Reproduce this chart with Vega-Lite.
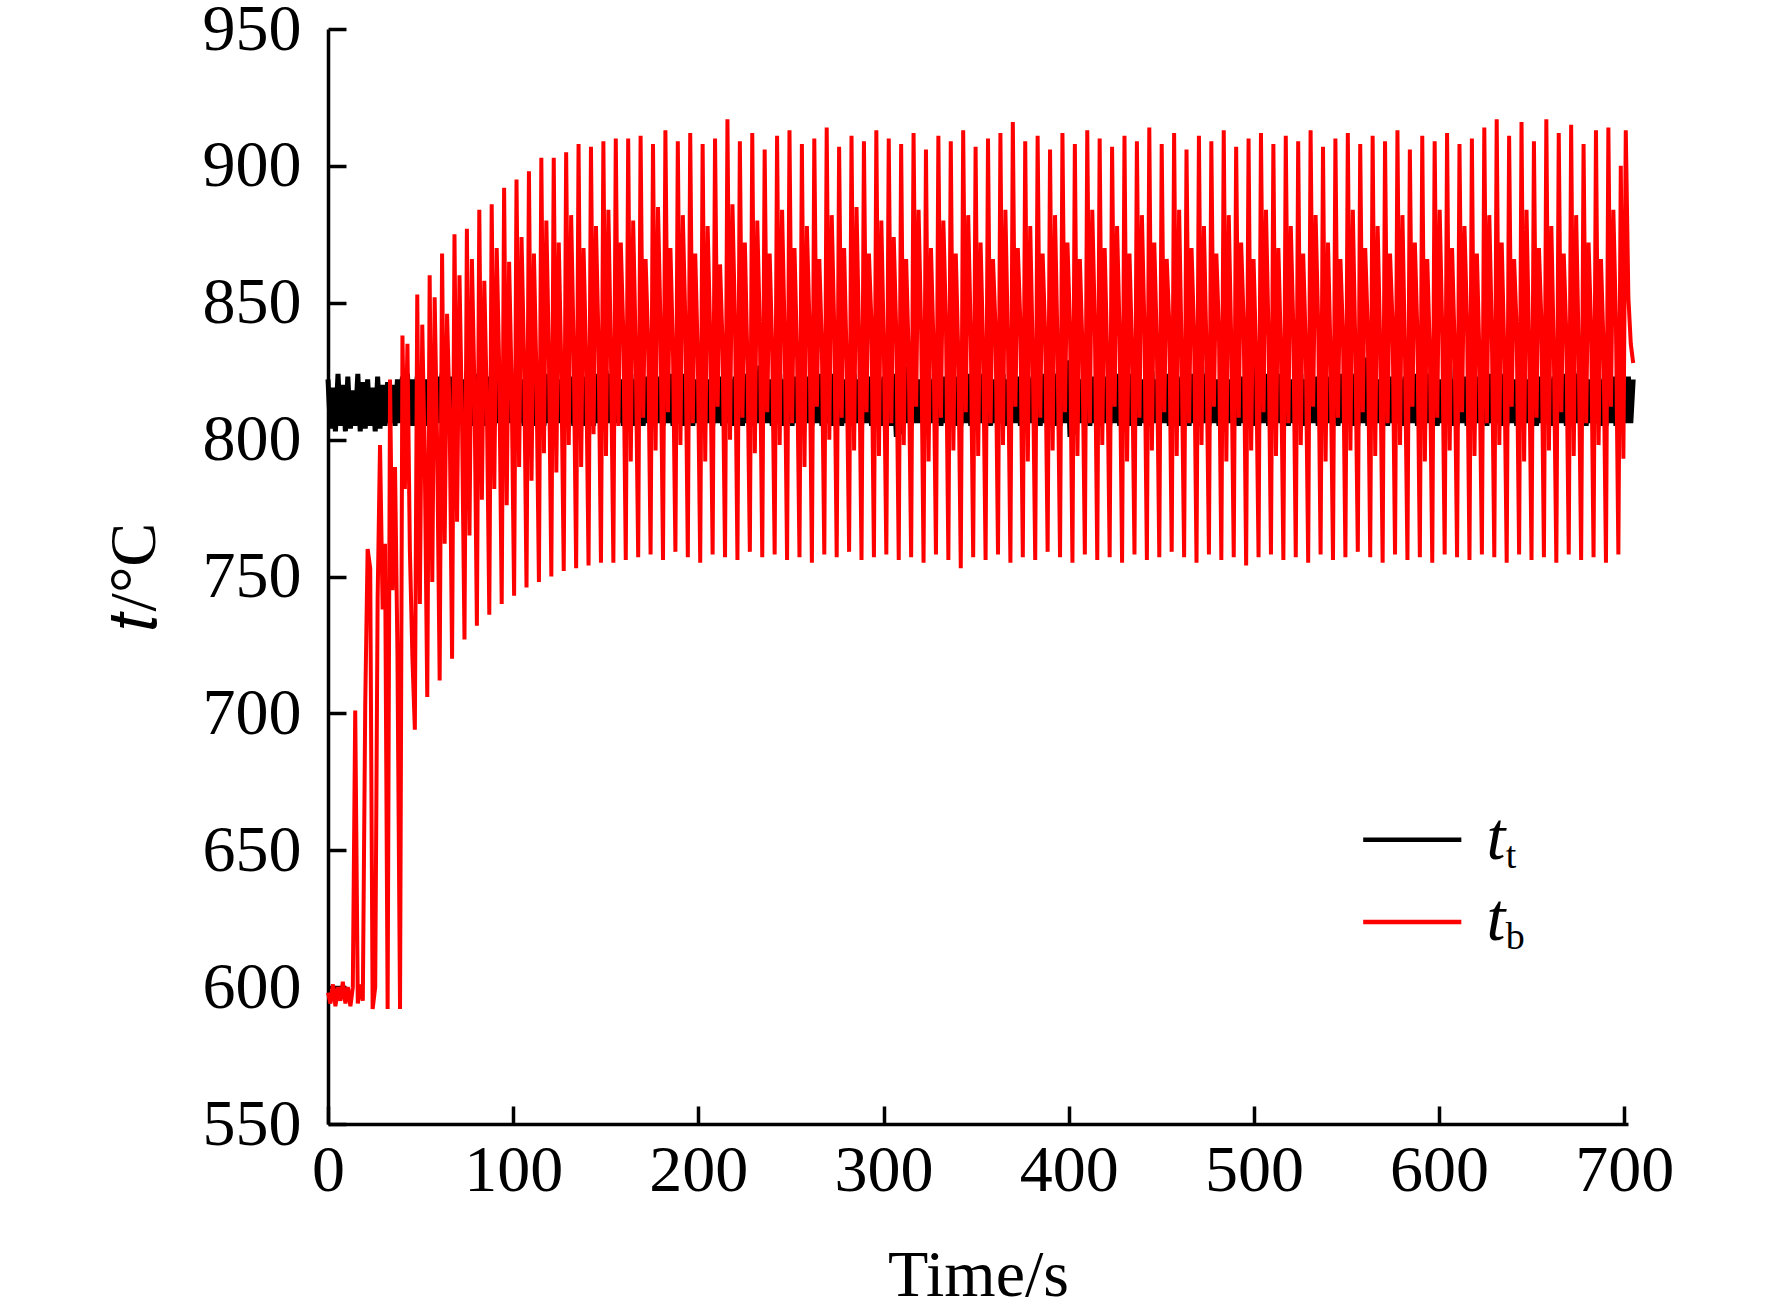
{
  "$schema": "https://vega.github.io/schema/vega-lite/v6.json",
  "description": "t_t and t_b temperature traces over time",
  "width": 1300,
  "height": 1095,
  "autosize": "none",
  "padding": {"left": 328, "top": 29, "right": 144, "bottom": 191},
  "background": "white",
  "config": {
    "view": {"stroke": null},
    "axis": {
      "grid": false,
      "domainColor": "black",
      "domainWidth": 3.5,
      "tickColor": "black",
      "tickWidth": 3.5,
      "tickSize": -18,
      "labelFont": "Liberation Serif",
      "labelFontSize": 66,
      "labelColor": "black",
      "labelFlush": false,
      "labelOverlap": false,
      "titleFont": "Liberation Serif",
      "titleFontSize": 66,
      "titleFontWeight": "normal",
      "titleColor": "black"
    }
  },
  "data": {
    "values": [
      {"t":0,"tt":822,"tb":598},{"t":1.3,"tt":804,"tb":594},{"t":2.7,"tt":819,"tb":601},{"t":4.0,"tt":803,"tb":593},{"t":5.4,"tt":824,"tb":600},
      {"t":6.7,"tt":805,"tb":595},{"t":8.0,"tt":820,"tb":602},{"t":9.4,"tt":803,"tb":594},{"t":10.7,"tt":823,"tb":600},{"t":12.1,"tt":804,"tb":593},
      {"t":13.4,"tt":818,"tb":600},{"t":14.7,"tt":805,"tb":701},{"t":16.1,"tt":824,"tb":594},{"t":17.4,"tt":803,"tb":601},{"t":18.8,"tt":821,"tb":595},
      {"t":20.1,"tt":804,"tb":703},{"t":21.4,"tt":822,"tb":760},{"t":22.8,"tt":805,"tb":753},{"t":24.1,"tt":819,"tb":592},{"t":25.5,"tt":803,"tb":600},
      {"t":26.8,"tt":823,"tb":742},{"t":28.1,"tt":804,"tb":798},{"t":29.5,"tt":820,"tb":738},{"t":30.8,"tt":805,"tb":762},{"t":32.2,"tt":821,"tb":592},
      {"t":33.5,"tt":806,"tb":822},{"t":34.8,"tt":820,"tb":745},{"t":36.2,"tt":805,"tb":790},{"t":37.5,"tt":822,"tb":722},{"t":38.9,"tt":806,"tb":592},
      {"t":40.2,"tt":823,"tb":838},{"t":41.5,"tt":806,"tb":782},{"t":42.9,"tt":824,"tb":835},{"t":44.2,"tt":805,"tb":760},{"t":45.6,"tt":822,"tb":720},
      {"t":46.9,"tt":805,"tb":694},{"t":48.2,"tt":823,"tb":853},{"t":49.6,"tt":806,"tb":740},{"t":50.9,"tt":824,"tb":842},{"t":52.3,"tt":805,"tb":790},
      {"t":53.6,"tt":822,"tb":706},{"t":54.9,"tt":806,"tb":860},{"t":56.3,"tt":825,"tb":748},{"t":57.6,"tt":805,"tb":852},{"t":59.0,"tt":823,"tb":795},
      {"t":60.3,"tt":806,"tb":712},{"t":61.6,"tt":824,"tb":868},{"t":63.0,"tt":805,"tb":762},{"t":64.3,"tt":822,"tb":846},{"t":65.7,"tt":806,"tb":808},
      {"t":67,"tt":823,"tb":720},{"t":68.3,"tt":805,"tb":875},{"t":69.7,"tt":824,"tb":770},{"t":71.0,"tt":806,"tb":860},{"t":72.4,"tt":822,"tb":805},
      {"t":73.7,"tt":805,"tb":727},{"t":75.0,"tt":825,"tb":877},{"t":76.4,"tt":806,"tb":765},{"t":77.7,"tt":823,"tb":866},{"t":79.1,"tt":805,"tb":818},
      {"t":80.4,"tt":824,"tb":732},{"t":81.7,"tt":806,"tb":884},{"t":83.1,"tt":822,"tb":778},{"t":84.4,"tt":805,"tb":858},{"t":85.8,"tt":823,"tb":812},
      {"t":87.1,"tt":806,"tb":736},{"t":88.4,"tt":823,"tb":886},{"t":89.8,"tt":805,"tb":782},{"t":91.1,"tt":824,"tb":870},{"t":92.5,"tt":806,"tb":825},
      {"t":93.8,"tt":822,"tb":740},{"t":95.1,"tt":805,"tb":892},{"t":96.5,"tt":825,"tb":776},{"t":97.8,"tt":806,"tb":865},{"t":99.2,"tt":823,"tb":818},
      {"t":100.5,"tt":805,"tb":743},{"t":101.8,"tt":824,"tb":895},{"t":103.2,"tt":806,"tb":790},{"t":104.5,"tt":822,"tb":874},{"t":105.9,"tt":805,"tb":828},
      {"t":107.2,"tt":825,"tb":746},{"t":108.5,"tt":806,"tb":898},{"t":109.9,"tt":823,"tb":785},{"t":111.2,"tt":805,"tb":868},{"t":112.6,"tt":824,"tb":822},
      {"t":113.9,"tt":806,"tb":748},{"t":115.2,"tt":822,"tb":903},{"t":116.6,"tt":805,"tb":795},{"t":117.9,"tt":824,"tb":880},{"t":119.3,"tt":806,"tb":830},
      {"t":120.6,"tt":823,"tb":750},{"t":121.9,"tt":805,"tb":903},{"t":123.3,"tt":824,"tb":788},{"t":124.6,"tt":806,"tb":872},{"t":126.0,"tt":822,"tb":826},
      {"t":127.3,"tt":805,"tb":752},{"t":128.6,"tt":825,"tb":905},{"t":130.0,"tt":806,"tb":798},{"t":131.3,"tt":823,"tb":882},{"t":132.7,"tt":805,"tb":832},
      {"t":134,"tt":824,"tb":753},{"t":135.3,"tt":806,"tb":908},{"t":136.7,"tt":822,"tb":790},{"t":138.0,"tt":805,"tb":870},{"t":139.4,"tt":823,"tb":828},
      {"t":140.7,"tt":806,"tb":754},{"t":142.0,"tt":823,"tb":907},{"t":143.4,"tt":805,"tb":802},{"t":144.7,"tt":824,"tb":878},{"t":146.1,"tt":806,"tb":835},
      {"t":147.4,"tt":822,"tb":755},{"t":148.7,"tt":805,"tb":909},{"t":150.1,"tt":825,"tb":794},{"t":151.4,"tt":806,"tb":884},{"t":152.8,"tt":824,"tb":830},
      {"t":154.1,"tt":805,"tb":755},{"t":155.4,"tt":824,"tb":910},{"t":156.8,"tt":806,"tb":805},{"t":158.1,"tt":822,"tb":872},{"t":159.5,"tt":805,"tb":838},
      {"t":160.8,"tt":823,"tb":756},{"t":162.1,"tt":806,"tb":910},{"t":163.5,"tt":824,"tb":792},{"t":164.8,"tt":805,"tb":880},{"t":166.2,"tt":822,"tb":831},
      {"t":167.5,"tt":806,"tb":757},{"t":168.8,"tt":825,"tb":911},{"t":170.2,"tt":805,"tb":808},{"t":171.5,"tt":823,"tb":866},{"t":172.9,"tt":806,"tb":835},
      {"t":174.2,"tt":824,"tb":758},{"t":175.5,"tt":805,"tb":908},{"t":176.9,"tt":822,"tb":796},{"t":178.2,"tt":806,"tb":885},{"t":179.6,"tt":823,"tb":840},
      {"t":180.9,"tt":805,"tb":756},{"t":182.2,"tt":823,"tb":913},{"t":183.6,"tt":806,"tb":810},{"t":184.9,"tt":824,"tb":870},{"t":186.3,"tt":805,"tb":832},
      {"t":187.6,"tt":822,"tb":759},{"t":188.9,"tt":806,"tb":909},{"t":190.3,"tt":825,"tb":798},{"t":191.6,"tt":805,"tb":882},{"t":193.0,"tt":824,"tb":842},
      {"t":194.3,"tt":806,"tb":757},{"t":195.6,"tt":824,"tb":912},{"t":197.0,"tt":805,"tb":806},{"t":198.3,"tt":822,"tb":868},{"t":199.7,"tt":806,"tb":830},
      {"t":201,"tt":823,"tb":755},{"t":202.3,"tt":805,"tb":908},{"t":203.7,"tt":824,"tb":792},{"t":205.0,"tt":806,"tb":878},{"t":206.4,"tt":822,"tb":838},
      {"t":207.7,"tt":805,"tb":758},{"t":209.0,"tt":825,"tb":910},{"t":210.4,"tt":806,"tb":812},{"t":211.7,"tt":823,"tb":864},{"t":213.1,"tt":805,"tb":834},
      {"t":214.4,"tt":824,"tb":757},{"t":215.7,"tt":806,"tb":917},{"t":217.1,"tt":822,"tb":800},{"t":218.4,"tt":805,"tb":886},{"t":219.8,"tt":823,"tb":842},
      {"t":221.1,"tt":806,"tb":756},{"t":222.4,"tt":823,"tb":909},{"t":223.8,"tt":805,"tb":808},{"t":225.1,"tt":824,"tb":872},{"t":226.5,"tt":806,"tb":828},
      {"t":227.8,"tt":822,"tb":759},{"t":229.1,"tt":805,"tb":912},{"t":230.5,"tt":825,"tb":795},{"t":231.8,"tt":806,"tb":880},{"t":233.2,"tt":827,"tb":840},
      {"t":234.5,"tt":805,"tb":757},{"t":235.8,"tt":824,"tb":906},{"t":237.2,"tt":806,"tb":810},{"t":238.5,"tt":822,"tb":868},{"t":239.9,"tt":805,"tb":832},
      {"t":241.2,"tt":823,"tb":758},{"t":242.5,"tt":806,"tb":911},{"t":243.9,"tt":824,"tb":798},{"t":245.2,"tt":805,"tb":884},{"t":246.6,"tt":822,"tb":838},
      {"t":247.9,"tt":806,"tb":756},{"t":249.2,"tt":825,"tb":913},{"t":250.6,"tt":805,"tb":806},{"t":251.9,"tt":823,"tb":870},{"t":253.3,"tt":806,"tb":830},
      {"t":254.6,"tt":824,"tb":757},{"t":255.9,"tt":805,"tb":908},{"t":257.3,"tt":822,"tb":790},{"t":258.6,"tt":806,"tb":878},{"t":260.0,"tt":823,"tb":842},
      {"t":261.3,"tt":805,"tb":755},{"t":262.6,"tt":827,"tb":910},{"t":264.0,"tt":806,"tb":812},{"t":265.3,"tt":824,"tb":866},{"t":266.7,"tt":805,"tb":834},
      {"t":268,"tt":822,"tb":758},{"t":269.3,"tt":806,"tb":914},{"t":270.7,"tt":825,"tb":800},{"t":272.0,"tt":805,"tb":882},{"t":273.4,"tt":824,"tb":840},
      {"t":274.7,"tt":806,"tb":757},{"t":276.0,"tt":824,"tb":907},{"t":277.4,"tt":805,"tb":808},{"t":278.7,"tt":822,"tb":870},{"t":280.1,"tt":806,"tb":828},
      {"t":281.4,"tt":823,"tb":759},{"t":282.7,"tt":805,"tb":911},{"t":284.1,"tt":824,"tb":796},{"t":285.4,"tt":806,"tb":885},{"t":286.8,"tt":822,"tb":836},
      {"t":288.1,"tt":805,"tb":756},{"t":289.4,"tt":825,"tb":909},{"t":290.8,"tt":806,"tb":810},{"t":292.1,"tt":823,"tb":868},{"t":293.5,"tt":805,"tb":842},
      {"t":294.8,"tt":824,"tb":757},{"t":296.1,"tt":806,"tb":913},{"t":297.5,"tt":822,"tb":794},{"t":298.8,"tt":805,"tb":880},{"t":300.2,"tt":823,"tb":832},
      {"t":301.5,"tt":806,"tb":758},{"t":302.8,"tt":827,"tb":910},{"t":304.2,"tt":805,"tb":806},{"t":305.5,"tt":824,"tb":874},{"t":306.9,"tt":801,"tb":838},
      {"t":308.2,"tt":822,"tb":756},{"t":309.5,"tt":802,"tb":908},{"t":310.9,"tt":825,"tb":798},{"t":312.2,"tt":806,"tb":866},{"t":313.6,"tt":827,"tb":830},
      {"t":314.9,"tt":805,"tb":757},{"t":316.2,"tt":824,"tb":912},{"t":317.6,"tt":806,"tb":812},{"t":318.9,"tt":822,"tb":884},{"t":320.3,"tt":806,"tb":840},
      {"t":321.6,"tt":823,"tb":755},{"t":322.9,"tt":805,"tb":906},{"t":324.3,"tt":824,"tb":792},{"t":325.6,"tt":806,"tb":870},{"t":327.0,"tt":822,"tb":834},
      {"t":328.3,"tt":806,"tb":758},{"t":329.6,"tt":825,"tb":911},{"t":331.0,"tt":805,"tb":808},{"t":332.3,"tt":823,"tb":880},{"t":333.7,"tt":806,"tb":842},
      {"t":335,"tt":824,"tb":756},{"t":336.3,"tt":806,"tb":909},{"t":337.7,"tt":822,"tb":796},{"t":339.0,"tt":805,"tb":868},{"t":340.4,"tt":823,"tb":830},
      {"t":341.7,"tt":805,"tb":753},{"t":343.0,"tt":823,"tb":913},{"t":344.4,"tt":806,"tb":810},{"t":345.7,"tt":824,"tb":882},{"t":347.1,"tt":805,"tb":838},
      {"t":348.4,"tt":822,"tb":757},{"t":349.7,"tt":805,"tb":907},{"t":351.1,"tt":825,"tb":794},{"t":352.4,"tt":806,"tb":872},{"t":353.8,"tt":824,"tb":832},
      {"t":355.1,"tt":806,"tb":756},{"t":356.4,"tt":824,"tb":910},{"t":357.8,"tt":805,"tb":806},{"t":359.1,"tt":822,"tb":866},{"t":360.5,"tt":806,"tb":840},
      {"t":361.8,"tt":823,"tb":758},{"t":363.1,"tt":806,"tb":912},{"t":364.5,"tt":824,"tb":798},{"t":365.8,"tt":805,"tb":884},{"t":367.2,"tt":822,"tb":834},
      {"t":368.5,"tt":805,"tb":755},{"t":369.8,"tt":825,"tb":916},{"t":371.2,"tt":806,"tb":812},{"t":372.5,"tt":823,"tb":870},{"t":373.9,"tt":805,"tb":842},
      {"t":375.2,"tt":824,"tb":757},{"t":376.5,"tt":805,"tb":909},{"t":377.9,"tt":822,"tb":792},{"t":379.2,"tt":806,"tb":878},{"t":380.6,"tt":823,"tb":830},
      {"t":381.9,"tt":806,"tb":756},{"t":383.2,"tt":823,"tb":911},{"t":384.6,"tt":805,"tb":808},{"t":385.9,"tt":824,"tb":868},{"t":387.3,"tt":806,"tb":838},
      {"t":388.6,"tt":822,"tb":759},{"t":389.9,"tt":806,"tb":906},{"t":391.3,"tt":825,"tb":796},{"t":392.6,"tt":805,"tb":882},{"t":394.0,"tt":824,"tb":832},
      {"t":395.3,"tt":805,"tb":757},{"t":396.6,"tt":824,"tb":912},{"t":398.0,"tt":806,"tb":810},{"t":399.3,"tt":829,"tb":872},{"t":400.7,"tt":801,"tb":840},
      {"t":402,"tt":823,"tb":755},{"t":403.3,"tt":802,"tb":908},{"t":404.7,"tt":824,"tb":794},{"t":406.0,"tt":806,"tb":866},{"t":407.4,"tt":822,"tb":834},
      {"t":408.7,"tt":806,"tb":758},{"t":410.0,"tt":828,"tb":913},{"t":411.4,"tt":805,"tb":806},{"t":412.7,"tt":823,"tb":884},{"t":414.1,"tt":806,"tb":842},
      {"t":415.4,"tt":824,"tb":756},{"t":416.7,"tt":805,"tb":910},{"t":418.1,"tt":822,"tb":798},{"t":419.4,"tt":806,"tb":870},{"t":420.8,"tt":823,"tb":830},
      {"t":422.1,"tt":805,"tb":757},{"t":423.4,"tt":825,"tb":907},{"t":424.8,"tt":806,"tb":812},{"t":426.1,"tt":824,"tb":878},{"t":427.5,"tt":805,"tb":838},
      {"t":428.8,"tt":822,"tb":755},{"t":430.1,"tt":806,"tb":911},{"t":431.5,"tt":823,"tb":792},{"t":432.8,"tt":805,"tb":868},{"t":434.2,"tt":824,"tb":832},
      {"t":435.5,"tt":806,"tb":758},{"t":436.8,"tt":824,"tb":909},{"t":438.2,"tt":805,"tb":808},{"t":439.5,"tt":822,"tb":882},{"t":440.9,"tt":806,"tb":840},
      {"t":442.2,"tt":823,"tb":756},{"t":443.5,"tt":805,"tb":914},{"t":444.9,"tt":825,"tb":796},{"t":446.2,"tt":806,"tb":872},{"t":447.6,"tt":822,"tb":834},
      {"t":448.9,"tt":805,"tb":757},{"t":450.2,"tt":823,"tb":908},{"t":451.6,"tt":806,"tb":810},{"t":452.9,"tt":824,"tb":866},{"t":454.3,"tt":805,"tb":842},
      {"t":455.6,"tt":824,"tb":759},{"t":456.9,"tt":806,"tb":912},{"t":458.3,"tt":822,"tb":794},{"t":459.6,"tt":805,"tb":884},{"t":461.0,"tt":823,"tb":830},
      {"t":462.3,"tt":806,"tb":757},{"t":463.6,"tt":827,"tb":906},{"t":465.0,"tt":805,"tb":806},{"t":466.3,"tt":824,"tb":870},{"t":467.7,"tt":806,"tb":838},
      {"t":469,"tt":822,"tb":755},{"t":470.3,"tt":805,"tb":911},{"t":471.7,"tt":828,"tb":798},{"t":473.0,"tt":806,"tb":878},{"t":474.4,"tt":824,"tb":832},
      {"t":475.7,"tt":805,"tb":758},{"t":477.0,"tt":824,"tb":909},{"t":478.4,"tt":806,"tb":812},{"t":479.7,"tt":822,"tb":868},{"t":481.1,"tt":805,"tb":840},
      {"t":482.4,"tt":823,"tb":756},{"t":483.7,"tt":803,"tb":913},{"t":485.1,"tt":824,"tb":792},{"t":486.4,"tt":806,"tb":882},{"t":487.8,"tt":822,"tb":834},
      {"t":489.1,"tt":806,"tb":757},{"t":490.4,"tt":825,"tb":907},{"t":491.8,"tt":805,"tb":808},{"t":493.1,"tt":823,"tb":872},{"t":494.5,"tt":806,"tb":842},
      {"t":495.8,"tt":824,"tb":754},{"t":497.1,"tt":806,"tb":910},{"t":498.5,"tt":822,"tb":796},{"t":499.8,"tt":805,"tb":866},{"t":501.2,"tt":827,"tb":830},
      {"t":502.5,"tt":805,"tb":757},{"t":503.8,"tt":823,"tb":912},{"t":505.2,"tt":806,"tb":810},{"t":506.5,"tt":824,"tb":884},{"t":507.9,"tt":805,"tb":838},
      {"t":509.2,"tt":822,"tb":758},{"t":510.5,"tt":805,"tb":908},{"t":511.9,"tt":825,"tb":794},{"t":513.2,"tt":806,"tb":870},{"t":514.6,"tt":824,"tb":832},
      {"t":515.9,"tt":806,"tb":756},{"t":517.2,"tt":824,"tb":911},{"t":518.6,"tt":805,"tb":806},{"t":519.9,"tt":822,"tb":878},{"t":521.3,"tt":806,"tb":840},
      {"t":522.6,"tt":823,"tb":757},{"t":523.9,"tt":806,"tb":909},{"t":525.3,"tt":824,"tb":798},{"t":526.6,"tt":805,"tb":868},{"t":528.0,"tt":822,"tb":834},
      {"t":529.3,"tt":805,"tb":755},{"t":530.6,"tt":825,"tb":913},{"t":532.0,"tt":806,"tb":812},{"t":533.3,"tt":823,"tb":882},{"t":534.7,"tt":805,"tb":842},
      {"t":536,"tt":824,"tb":758},{"t":537.3,"tt":805,"tb":907},{"t":538.7,"tt":822,"tb":792},{"t":540.0,"tt":806,"tb":872},{"t":541.4,"tt":823,"tb":830},
      {"t":542.7,"tt":806,"tb":756},{"t":544.0,"tt":823,"tb":910},{"t":545.4,"tt":805,"tb":808},{"t":546.7,"tt":824,"tb":866},{"t":548.1,"tt":806,"tb":838},
      {"t":549.4,"tt":822,"tb":757},{"t":550.7,"tt":806,"tb":912},{"t":552.1,"tt":825,"tb":796},{"t":553.4,"tt":805,"tb":884},{"t":554.8,"tt":824,"tb":832},
      {"t":556.1,"tt":805,"tb":759},{"t":557.4,"tt":824,"tb":908},{"t":558.8,"tt":806,"tb":810},{"t":560.1,"tt":830,"tb":870},{"t":561.5,"tt":805,"tb":840},
      {"t":562.8,"tt":823,"tb":757},{"t":564.1,"tt":805,"tb":911},{"t":565.5,"tt":824,"tb":794},{"t":566.8,"tt":806,"tb":878},{"t":568.2,"tt":822,"tb":834},
      {"t":569.5,"tt":806,"tb":755},{"t":570.8,"tt":825,"tb":909},{"t":572.2,"tt":805,"tb":806},{"t":573.5,"tt":823,"tb":868},{"t":574.9,"tt":806,"tb":842},
      {"t":576.2,"tt":824,"tb":758},{"t":577.5,"tt":806,"tb":913},{"t":578.9,"tt":822,"tb":798},{"t":580.2,"tt":805,"tb":882},{"t":581.6,"tt":823,"tb":830},
      {"t":582.9,"tt":805,"tb":756},{"t":584.2,"tt":823,"tb":906},{"t":585.6,"tt":806,"tb":812},{"t":586.9,"tt":824,"tb":872},{"t":588.3,"tt":805,"tb":838},
      {"t":589.6,"tt":822,"tb":757},{"t":590.9,"tt":805,"tb":911},{"t":592.3,"tt":825,"tb":792},{"t":593.6,"tt":806,"tb":866},{"t":595.0,"tt":824,"tb":832},
      {"t":596.3,"tt":806,"tb":755},{"t":597.6,"tt":824,"tb":909},{"t":599.0,"tt":805,"tb":808},{"t":600.3,"tt":822,"tb":884},{"t":601.7,"tt":806,"tb":840},
      {"t":603,"tt":823,"tb":758},{"t":604.3,"tt":806,"tb":912},{"t":605.7,"tt":827,"tb":796},{"t":607.0,"tt":805,"tb":870},{"t":608.4,"tt":822,"tb":834},
      {"t":609.7,"tt":805,"tb":757},{"t":611.0,"tt":825,"tb":908},{"t":612.4,"tt":806,"tb":810},{"t":613.7,"tt":823,"tb":878},{"t":615.1,"tt":805,"tb":842},
      {"t":616.4,"tt":824,"tb":756},{"t":617.7,"tt":805,"tb":910},{"t":619.1,"tt":822,"tb":794},{"t":620.4,"tt":806,"tb":868},{"t":621.8,"tt":823,"tb":830},
      {"t":623.1,"tt":806,"tb":758},{"t":624.4,"tt":823,"tb":914},{"t":625.8,"tt":805,"tb":806},{"t":627.1,"tt":824,"tb":882},{"t":628.5,"tt":806,"tb":838},
      {"t":629.8,"tt":822,"tb":757},{"t":631.1,"tt":806,"tb":917},{"t":632.5,"tt":825,"tb":798},{"t":633.8,"tt":805,"tb":872},{"t":635.2,"tt":824,"tb":832},
      {"t":636.5,"tt":805,"tb":755},{"t":637.8,"tt":824,"tb":911},{"t":639.2,"tt":806,"tb":812},{"t":640.5,"tt":822,"tb":866},{"t":641.9,"tt":805,"tb":840},
      {"t":643.2,"tt":823,"tb":758},{"t":644.5,"tt":805,"tb":916},{"t":645.9,"tt":824,"tb":792},{"t":647.2,"tt":806,"tb":884},{"t":648.6,"tt":822,"tb":834},
      {"t":649.9,"tt":806,"tb":756},{"t":651.2,"tt":827,"tb":909},{"t":652.6,"tt":805,"tb":808},{"t":653.9,"tt":823,"tb":870},{"t":655.3,"tt":806,"tb":842},
      {"t":656.6,"tt":824,"tb":757},{"t":657.9,"tt":806,"tb":917},{"t":659.3,"tt":822,"tb":796},{"t":660.6,"tt":805,"tb":878},{"t":662.0,"tt":823,"tb":830},
      {"t":663.3,"tt":805,"tb":755},{"t":664.6,"tt":827,"tb":912},{"t":666.0,"tt":806,"tb":810},{"t":667.3,"tt":824,"tb":868},{"t":668.7,"tt":805,"tb":838},
      {"t":670,"tt":822,"tb":758},{"t":671.3,"tt":805,"tb":915},{"t":672.7,"tt":825,"tb":794},{"t":674.0,"tt":806,"tb":882},{"t":675.4,"tt":824,"tb":832},
      {"t":676.7,"tt":806,"tb":756},{"t":678.0,"tt":824,"tb":908},{"t":679.4,"tt":805,"tb":806},{"t":680.7,"tt":822,"tb":872},{"t":682.1,"tt":806,"tb":840},
      {"t":683.4,"tt":823,"tb":757},{"t":684.7,"tt":806,"tb":913},{"t":686.1,"tt":824,"tb":798},{"t":687.4,"tt":805,"tb":866},{"t":688.8,"tt":822,"tb":834},
      {"t":690.1,"tt":805,"tb":755},{"t":691.4,"tt":825,"tb":914},{"t":692.8,"tt":806,"tb":812},{"t":694.1,"tt":823,"tb":884},{"t":695.5,"tt":805,"tb":842},
      {"t":696.8,"tt":824,"tb":758},{"t":698.1,"tt":805,"tb":900},{"t":699.5,"tt":822,"tb":793},{"t":700.8,"tt":806,"tb":913},{"t":702.2,"tt":823,"tb":852},
      {"t":703.5,"tt":806,"tb":835},{"t":704.8,"tt":822,"tb":828}
    ]
  },
  "layer": [
    {
      "mark": {"type": "line", "color": "#000000", "strokeWidth": 5},
      "encoding": {
        "x": {
          "field": "t",
          "type": "quantitative",
          "title": "Time/s",
          "scale": {"domain": [0, 702], "nice": false, "zero": false},
          "axis": {"values": [0, 100, 200, 300, 400, 500, 600, 700], "labelPadding": 32.5, "titlePadding": 40}
        },
        "y": {
          "field": "tt",
          "type": "quantitative",
          "title": "𝑡/°C",
          "scale": {"domain": [550, 950], "nice": false, "zero": false},
          "axis": {"values": [550, 600, 650, 700, 750, 800, 850, 900, 950], "labelPadding": 45, "titlePadding": 34}
        }
      }
    },
    {
      "mark": {"type": "line", "color": "#ff0000", "strokeWidth": 4},
      "encoding": {
        "x": {"field": "t", "type": "quantitative", "title": "Time/s"},
        "y": {"field": "tb", "type": "quantitative", "title": "𝑡/°C"}
      }
    },
    {
      "data": {"values": [{}]},
      "mark": {"type": "rule", "color": "#000000", "strokeWidth": 4.5},
      "encoding": {
        "x": {"datum": 559, "type": "quantitative", "title": "Time/s"},
        "x2": {"datum": 612},
        "y": {"datum": 653.8, "type": "quantitative", "title": "𝑡/°C"}
      }
    },
    {
      "data": {"values": [{}]},
      "mark": {"type": "rule", "color": "#ff0000", "strokeWidth": 4.5},
      "encoding": {
        "x": {"datum": 559, "type": "quantitative", "title": "Time/s"},
        "x2": {"datum": 612},
        "y": {"datum": 623.8, "type": "quantitative", "title": "𝑡/°C"}
      }
    },
    {
      "data": {"values": [{}]},
      "mark": {"type": "text", "text": "t", "font": "Liberation Serif", "fontStyle": "italic", "fontSize": 68, "align": "left", "baseline": "alphabetic", "color": "#000000"},
      "encoding": {
        "x": {"datum": 625.6, "type": "quantitative", "title": "Time/s"},
        "y": {"datum": 646.8, "type": "quantitative", "title": "𝑡/°C"}
      }
    },
    {
      "data": {"values": [{}]},
      "mark": {"type": "text", "text": "t", "font": "Liberation Serif", "fontSize": 38, "align": "left", "baseline": "alphabetic", "color": "#000000"},
      "encoding": {
        "x": {"datum": 636, "type": "quantitative", "title": "Time/s"},
        "y": {"datum": 643.5, "type": "quantitative", "title": "𝑡/°C"}
      }
    },
    {
      "data": {"values": [{}]},
      "mark": {"type": "text", "text": "t", "font": "Liberation Serif", "fontStyle": "italic", "fontSize": 68, "align": "left", "baseline": "alphabetic", "color": "#000000"},
      "encoding": {
        "x": {"datum": 625.6, "type": "quantitative", "title": "Time/s"},
        "y": {"datum": 617.2, "type": "quantitative", "title": "𝑡/°C"}
      }
    },
    {
      "data": {"values": [{}]},
      "mark": {"type": "text", "text": "b", "font": "Liberation Serif", "fontSize": 38, "align": "left", "baseline": "alphabetic", "color": "#000000"},
      "encoding": {
        "x": {"datum": 636, "type": "quantitative", "title": "Time/s"},
        "y": {"datum": 614, "type": "quantitative", "title": "𝑡/°C"}
      }
    }
  ]
}
